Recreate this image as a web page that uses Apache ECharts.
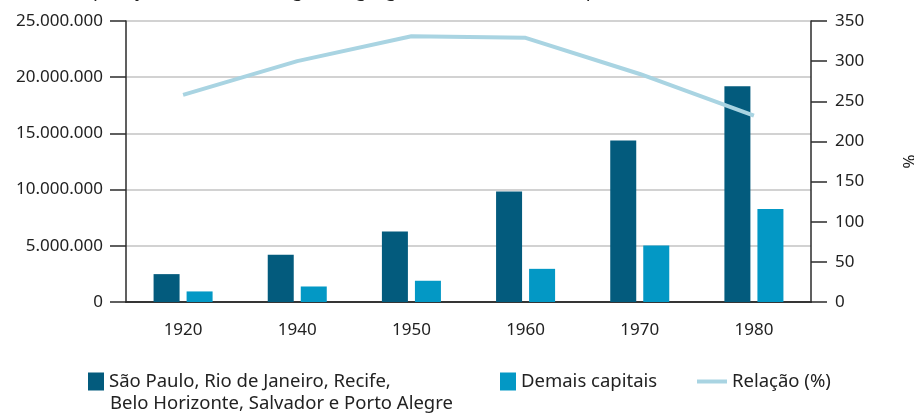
<!DOCTYPE html>
<html>
<head>
<meta charset="utf-8">
<script src="https://cdn.jsdelivr.net/npm/echarts@6/dist/echarts.min.js"></script>
<style>
  html, body { margin: 0; padding: 0; background: #fff; }
  #chart { width: 914px; height: 414px; }
</style>
</head>
<body>
<div id="chart"></div>
<script>
  var anos = ['1920', '1940', '1950', '1960', '1970', '1980'];
  var regioes = [2480000, 4200000, 6270000, 9820000, 14370000, 19190000];
  var demais = [940000, 1380000, 1890000, 2950000, 5020000, 8280000];
  var relacao = [258, 300, 331, 329, 284, 232];

  var nomeRegioes = 'São Paulo, Rio de Janeiro, Recife,';
  var nomeRegioes2 = 'Belo Horizonte, Salvador e Porto Alegre';
  var nomeDemais = 'Demais capitais';
  var nomeRelacao = 'Relação (%)';

  var fonte = '"Noto Sans", "Open Sans", sans-serif';
  var eixo = '#2b2b2b';
  var legendaTexto = { fontSize: 18.5, color: '#222', fontFamily: fonte };

  var option = {
    animation: false,
    textStyle: { fontFamily: fonte },
    title: {
      text: 'População urbana das regiões agregadas e das demais capitais (1920-1980)',
      left: 65,
      top: -24,
      textStyle: { fontSize: 19, fontWeight: 'normal', color: '#222', fontFamily: fonte }
    },
    grid: { left: 126, right: 103, top: 21, bottom: 112, outerBoundsMode: 'none', containLabel: false },
    legend: [
      {
        data: [{ name: nomeRegioes, icon: 'rect' }], left: 88, top: 372, padding: 0,
        itemWidth: 16, itemHeight: 18,
        textStyle: legendaTexto
      },
      {
        data: [{ name: nomeDemais, icon: 'rect' }], left: 500, top: 372, padding: 0,
        itemWidth: 16, itemHeight: 18,
        textStyle: legendaTexto
      },
      {
        data: [{ name: nomeRelacao, icon: 'path://M0,0H30V4H0Z' }], left: 697, top: 372, padding: 0,
        itemWidth: 30, itemHeight: 18,
        textStyle: legendaTexto
      }
    ],
    graphic: [
      {
        type: 'text', left: 110, top: 394,
        style: { text: nomeRegioes2, fontSize: 18.5, fill: '#222', fontFamily: fonte }
      }
    ],
    xAxis: [
      {
        type: 'category',
        data: anos,
        axisLine: { lineStyle: { color: eixo, width: 1.5 } },
        axisTick: { length: 15, lineStyle: { color: eixo, width: 1.5 } },
        axisLabel: { margin: 20, fontSize: 17, color: '#222' }
      },
      {
        type: 'category',
        position: 'top',
        data: anos,
        axisLine: { lineStyle: { color: eixo, width: 1.5 } },
        axisTick: { show: false },
        axisLabel: { show: false }
      }
    ],
    yAxis: [
      {
        type: 'value',
        min: 0, max: 25000000, interval: 5000000,
        axisLine: { show: true, lineStyle: { color: eixo, width: 1.5 } },
        axisTick: { show: true, length: 16, lineStyle: { color: eixo, width: 1.5 } },
        axisLabel: {
          margin: 23, fontSize: 17, color: '#222',
          formatter: function (v) { return v === 0 ? '0' : v.toString().replace(/\B(?=(\d{3})+(?!\d))/g, '.'); }
        },
        splitLine: { lineStyle: { color: '#d2d2d2', width: 2 } }
      },
      {
        type: 'value',
        min: 0, max: 350, interval: 50,
        name: '%',
        nameLocation: 'middle',
        nameRotate: -90,
        nameGap: 88,
        nameTextStyle: { fontSize: 17, color: '#222' },
        axisLine: { show: true, lineStyle: { color: eixo, width: 1.5 } },
        axisTick: { show: true, length: 16, lineStyle: { color: eixo, width: 1.5 } },
        axisLabel: { margin: 24, fontSize: 17, color: '#222' },
        splitLine: { show: false }
      }
    ],
    series: [
      {
        name: nomeRegioes, type: 'bar', data: regioes,
        barWidth: 26, barGap: '27%',
        itemStyle: { color: '#035b7d' }
      },
      {
        name: nomeDemais, type: 'bar', data: demais,
        barWidth: 26,
        itemStyle: { color: '#0398c5' }
      },
      {
        name: nomeRelacao, type: 'line', data: relacao, yAxisIndex: 1,
        symbol: 'none', z: 5,
        lineStyle: { color: '#a9d4e2', width: 4 },
        itemStyle: { color: '#a9d4e2' }
      }
    ]
  };

  echarts.init(document.getElementById('chart')).setOption(option);
</script>
</body>
</html>
